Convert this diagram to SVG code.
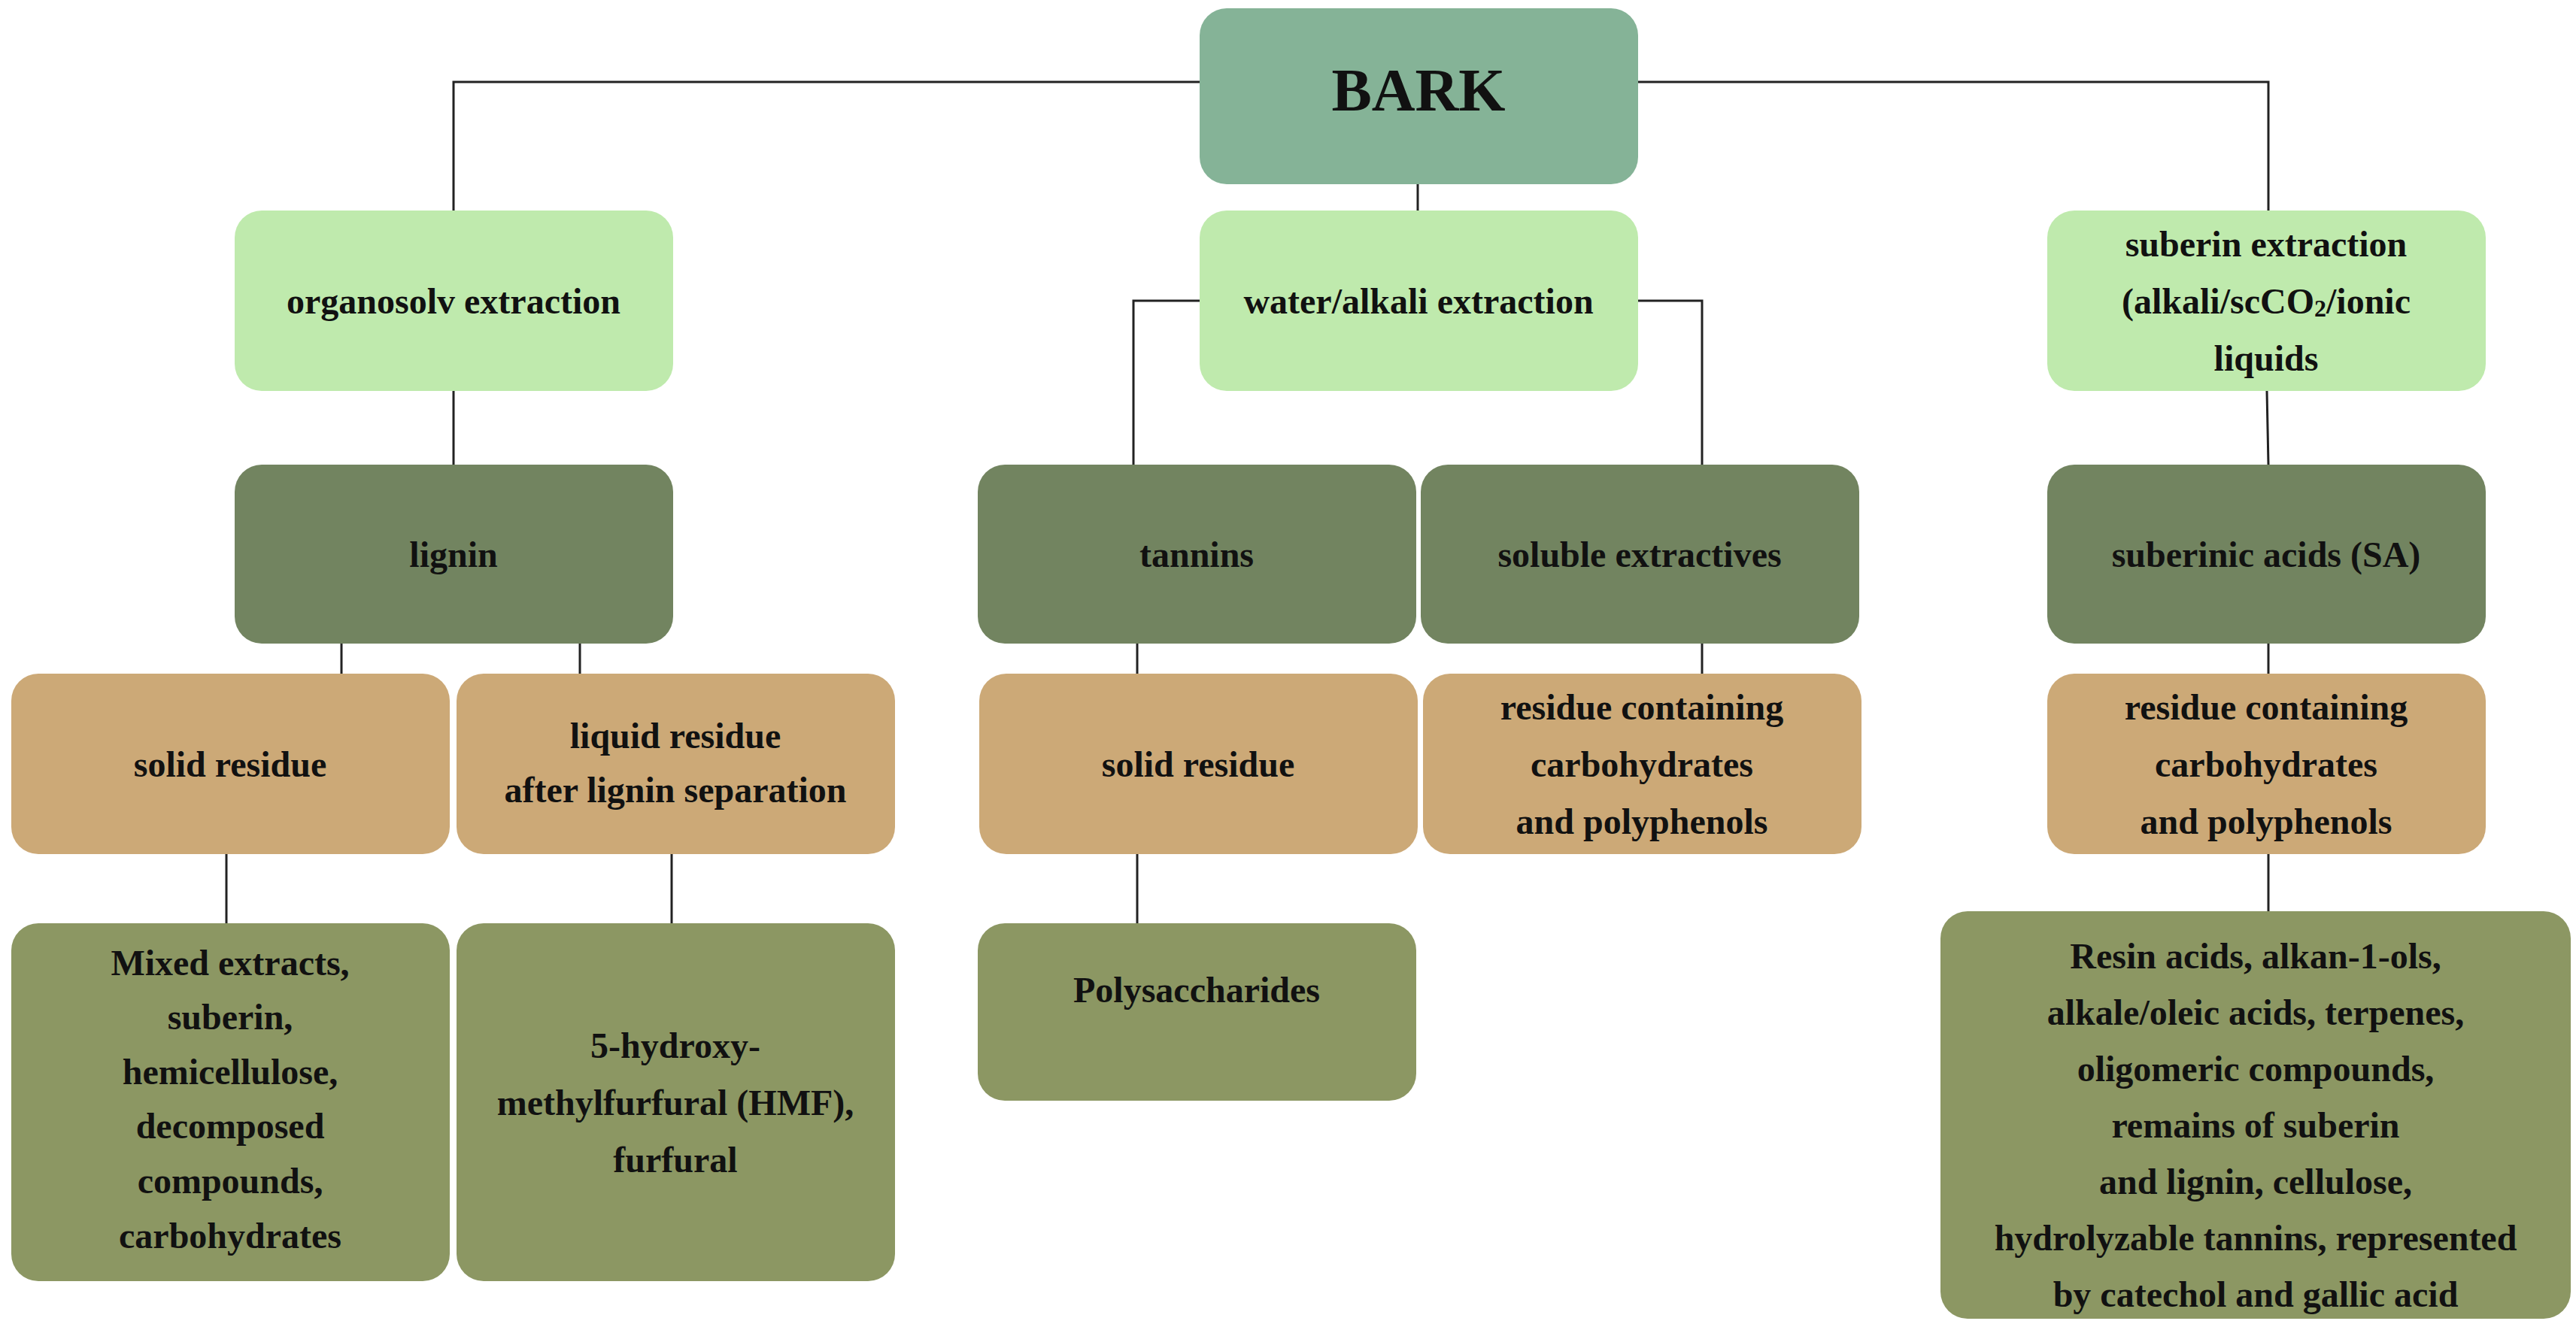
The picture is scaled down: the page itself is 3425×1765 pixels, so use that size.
<svg xmlns="http://www.w3.org/2000/svg" width="3425" height="1765" viewBox="0 0 3425 1765">
<style>
text{font-family:"Liberation Serif","DejaVu Serif",serif;font-weight:bold;font-size:48px;text-anchor:middle;dominant-baseline:central;fill:#111}
.top{fill:#85b397}.l1{fill:#bfeaad}.l2{fill:#728460}.l3{fill:#cca977}.l4{fill:#8c9763}
.c{stroke:#222;stroke-width:3;fill:none}
</style>
<rect width="3425" height="1765" fill="#fff"/>
<g id="connectors" class="c">
<polyline points="1595,109 603,109 603,280"/>
<polyline points="2178,109 3016,109 3016,280"/>
<line x1="1885" y1="245" x2="1885" y2="280"/>
<polyline points="1595,400 1507,400 1507,618"/>
<polyline points="2178,400 2263,400 2263,618"/>
<line x1="603" y1="520" x2="603" y2="618"/>
<line x1="3014" y1="520" x2="3016" y2="618"/>
<line x1="454" y1="856" x2="454" y2="896"/>
<line x1="771" y1="856" x2="771" y2="896"/>
<line x1="1512" y1="856" x2="1512" y2="896"/>
<line x1="2263" y1="856" x2="2263" y2="896"/>
<line x1="3016" y1="856" x2="3016" y2="896"/>
<line x1="301" y1="1136" x2="301" y2="1228"/>
<line x1="893" y1="1136" x2="893" y2="1228"/>
<line x1="1512" y1="1136" x2="1512" y2="1228"/>
<line x1="3016" y1="1136" x2="3016" y2="1212"/>
</g>
<g id="bark"><rect class="top" x="1595" y="11" width="583" height="234" rx="36"/><text x="1886" y="120" style="font-size:80px">BARK</text></g>
<g id="organosolv"><rect class="l1" x="312" y="280" width="583" height="240" rx="36"/><text x="603" y="400">organosolv extraction</text></g>
<g id="water"><rect class="l1" x="1595" y="280" width="583" height="240" rx="36"/><text x="1886" y="400">water/alkali extraction</text></g>
<g id="suberin"><rect class="l1" x="2722" y="280" width="583" height="240" rx="36"/><text x="3013" y="324">suberin extraction</text><text x="3013" y="400">(alkali/scCO<tspan style="font-size:32px" dy="10">2</tspan><tspan dy="-10">/ionic</tspan></text><text x="3013" y="476">liquids</text></g>
<g id="lignin"><rect class="l2" x="312" y="618" width="583" height="238" rx="36"/><text x="603" y="737">lignin</text></g>
<g id="tannins"><rect class="l2" x="1300" y="618" width="583" height="238" rx="36"/><text x="1591" y="737">tannins</text></g>
<g id="soluble"><rect class="l2" x="1889" y="618" width="583" height="238" rx="36"/><text x="2180" y="737">soluble extractives</text></g>
<g id="sa"><rect class="l2" x="2722" y="618" width="583" height="238" rx="36"/><text x="3013" y="737">suberinic acids (SA)</text></g>
<g id="solid1"><rect class="l3" x="15" y="896" width="583" height="240" rx="36"/><text x="306" y="1016">solid residue</text></g>
<g id="liquid"><rect class="l3" x="607" y="896" width="583" height="240" rx="36"/><text x="898" y="978">liquid residue</text><text x="898" y="1050">after lignin separation</text></g>
<g id="solid2"><rect class="l3" x="1302" y="896" width="583" height="240" rx="36"/><text x="1593" y="1016">solid residue</text></g>
<g id="resmid"><rect class="l3" x="1892" y="896" width="583" height="240" rx="36"/><text x="2183" y="940">residue containing</text><text x="2183" y="1016">carbohydrates</text><text x="2183" y="1092">and polyphenols</text></g>
<g id="resright"><rect class="l3" x="2722" y="896" width="583" height="240" rx="36"/><text x="3013" y="940">residue containing</text><text x="3013" y="1016">carbohydrates</text><text x="3013" y="1092">and polyphenols</text></g>
<g id="mixed"><rect class="l4" x="15" y="1228" width="583" height="476" rx="36"/>
<text x="306" y="1280">Mixed extracts,</text><text x="306" y="1352">suberin,</text><text x="306" y="1425">hemicellulose,</text><text x="306" y="1497">decomposed</text><text x="306" y="1570">compounds,</text><text x="306" y="1643">carbohydrates</text></g>
<g id="hmf"><rect class="l4" x="607" y="1228" width="583" height="476" rx="36"/><text x="898" y="1390">5-hydroxy-</text><text x="898" y="1466">methylfurfural (HMF),</text><text x="898" y="1542">furfural</text></g>
<g id="poly"><rect class="l4" x="1300" y="1228" width="583" height="236" rx="36"/><text x="1591" y="1316">Polysaccharides</text></g>
<g id="resin"><rect class="l4" x="2580" y="1212" width="838" height="542" rx="36"/>
<text x="2999" y="1271">Resin acids, alkan-1-ols,</text><text x="2999" y="1346">alkale/oleic acids, terpenes,</text><text x="2999" y="1421">oligomeric compounds,</text><text x="2999" y="1496">remains of suberin</text><text x="2999" y="1571">and lignin,  cellulose,</text><text x="2999" y="1646">hydrolyzable tannins,  represented</text><text x="2999" y="1721">by catechol and gallic acid</text></g>
</svg>
